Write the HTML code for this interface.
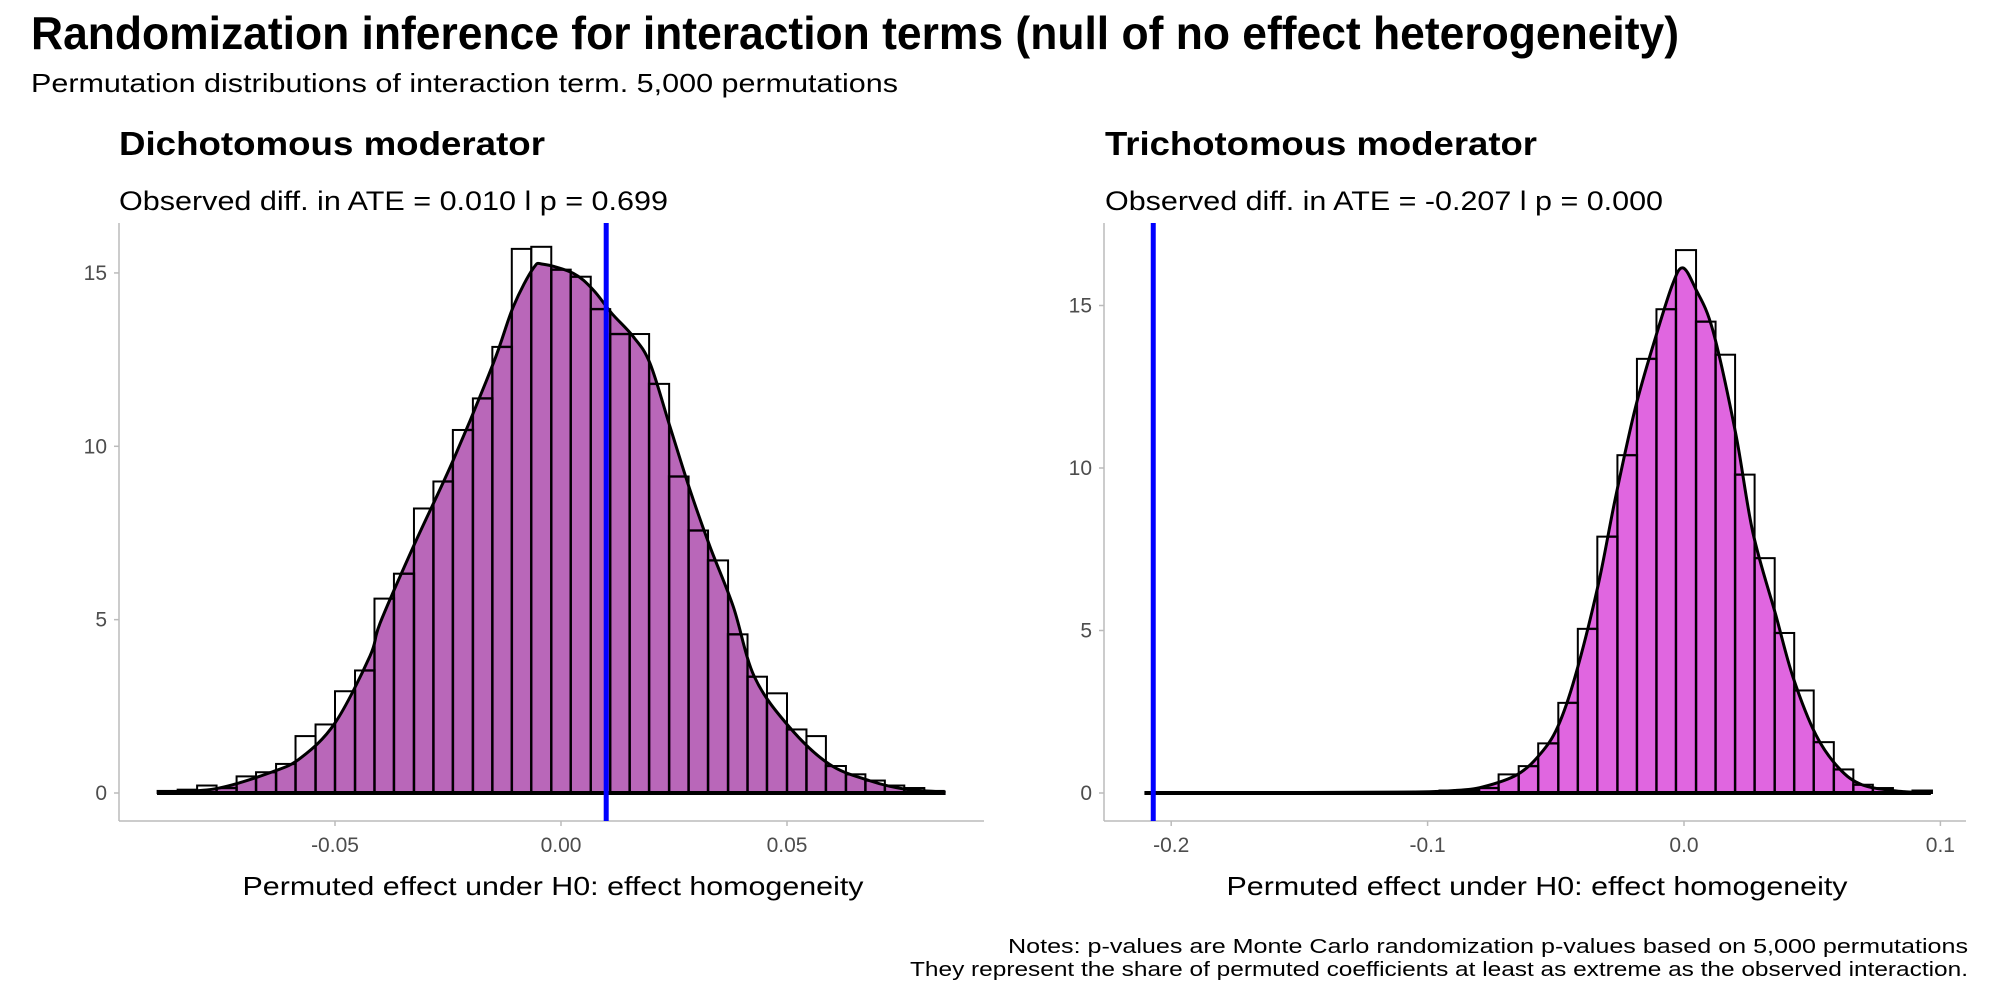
<!DOCTYPE html>
<html><head><meta charset="utf-8">
<style>
html,body{margin:0;padding:0;background:#fff;}
svg{display:block;font-family:"Liberation Sans",sans-serif;}
</style></head>
<body>
<svg id="s" width="2000" height="1000" viewBox="0 0 2000 1000" xmlns="http://www.w3.org/2000/svg">
<rect width="2000" height="1000" fill="#fff"/>
<text x="31" y="49" font-size="46" font-weight="bold" textLength="1648" lengthAdjust="spacingAndGlyphs">Randomization inference for interaction terms (null of no effect heterogeneity)</text>
<text x="31" y="92" font-size="26" textLength="867" lengthAdjust="spacingAndGlyphs">Permutation distributions of interaction term. 5,000 permutations</text>
<text x="119" y="155" font-size="33" font-weight="bold" textLength="426" lengthAdjust="spacingAndGlyphs">Dichotomous moderator</text>
<text x="119" y="210" font-size="27" textLength="549" lengthAdjust="spacingAndGlyphs">Observed diff. in ATE = 0.010 l p = 0.699</text>
<text x="1105" y="155" font-size="33" font-weight="bold" textLength="432" lengthAdjust="spacingAndGlyphs">Trichotomous moderator</text>
<text x="1105" y="210" font-size="27" textLength="558" lengthAdjust="spacingAndGlyphs">Observed diff. in ATE = -0.207 l p = 0.000</text>
<text x="553" y="895" font-size="26" text-anchor="middle" textLength="621" lengthAdjust="spacingAndGlyphs">Permuted effect under H0: effect homogeneity</text>
<text x="1537" y="895" font-size="26" text-anchor="middle" textLength="621" lengthAdjust="spacingAndGlyphs">Permuted effect under H0: effect homogeneity</text>
<text x="1968" y="953" font-size="20" text-anchor="end" textLength="960" lengthAdjust="spacingAndGlyphs">Notes: p-values are Monte Carlo randomization p-values based on 5,000 permutations</text>
<text x="1968" y="976" font-size="20" text-anchor="end" textLength="1058" lengthAdjust="spacingAndGlyphs">They represent the share of permuted coefficients at least as extreme as the observed interaction.</text>
<g id="g"></g>
</svg>
<script>
var NS="http://www.w3.org/2000/svg",G=document.getElementById('g');
function el(t,a,txt){var e=document.createElementNS(NS,t);for(var k in a)e.setAttribute(k,a[k]);if(txt!==undefined)e.textContent=txt;G.appendChild(e);return e;}
function smooth(p){var d='M'+p[0][0]+','+p[0][1];
  for(var i=0;i<p.length-1;i++){var p0=p[i-1]||p[i],p1=p[i],p2=p[i+1],p3=p[i+2]||p2;
    var c1=[p1[0]+(p2[0]-p0[0])/6,p1[1]+(p2[1]-p0[1])/6],c2=[p2[0]-(p3[0]-p1[0])/6,p2[1]-(p3[1]-p1[1])/6];
    d+=' C'+c1[0]+','+c1[1]+' '+c2[0]+','+c2[1]+' '+p2[0]+','+p2[1];}
  return d;}
function panel(P){
  var X=function(v){return P.x0+v*P.kx;}, Y=function(h){return P.y0-h*P.ky;};
  el('line',{x1:P.ax,y1:223,x2:P.ax,y2:821,stroke:'#bbb','stroke-width':1.5});
  el('line',{x1:P.ax,y1:821,x2:P.axr,y2:821,stroke:'#bbb','stroke-width':1.5});
  P.yt.forEach(function(t){var y=Y(t);el('line',{x1:P.ax-5,y1:y,x2:P.ax,y2:y,stroke:'#bbb','stroke-width':1.5});
    el('text',{x:P.ax-12,y:y+7,'font-size':21,fill:'#4d4d4d','text-anchor':'end'},String(t));});
  P.xt.forEach(function(t){var x=X(t[0]);el('line',{x1:x,y1:821,x2:x,y2:826,stroke:'#bbb','stroke-width':1.5});
    el('text',{x:x,y:852,'font-size':21,fill:'#4d4d4d','text-anchor':'middle'},t[1]);});
  var pts=P.full?P.curve:P.curve.map(function(p){return [X(P.dx(p[0])),Y(P.dy(p[1]))];});
  var sc=smooth(pts);
  var d=sc+' L'+pts[pts.length-1][0]+','+Y(0)+' L'+pts[0][0]+','+Y(0)+' Z';
  var cid='c'+P.id;
  var cp=el('clipPath',{id:cid});var pa=document.createElementNS(NS,'path');pa.setAttribute('d',d);cp.appendChild(pa);
  el('path',{d:d,fill:P.fill,stroke:'none'});
  var bars=el('g',{'clip-path':'url(#'+cid+')'});
  P.bins.forEach(function(b){var x1=X(P.dx(b[0])),x2=X(P.dx(b[1])),y=Y(P.dy(b[2]));
    var r=document.createElementNS(NS,'rect');r.setAttribute('x',x1);r.setAttribute('y',y);r.setAttribute('width',x2-x1);r.setAttribute('height',Y(0)-y);
    r.setAttribute('fill','none');r.setAttribute('stroke',P.dark);r.setAttribute('stroke-width',2.5);bars.appendChild(r);});
  P.bins.forEach(function(b){var x1=X(P.dx(b[0])),x2=X(P.dx(b[1])),y=Y(P.dy(b[2]));
    el('rect',{x:x1,y:y,width:x2-x1,height:Y(0)-y,fill:'none',stroke:'#000','stroke-width':2});});
  el('path',{d:sc,fill:'none',stroke:'#000','stroke-width':3});
  el('line',{x1:pts[0][0],y1:Y(0),x2:pts[pts.length-1][0],y2:Y(0),stroke:'#000','stroke-width':4});
  el('line',{x1:X(P.obs),y1:223,x2:X(P.obs),y2:821,stroke:'#0000ff','stroke-width':5});
}
var le=[100,135,169,203,238,272,307,341,376,410,445,479,513,548,582,616,651,685,719,753,788,822,857,891,925,959,994,1028,1062,1097,1131,1165,1200,1234,1268,1303,1337,1371,1405,1440,1474];
var lt=[1425,1422,1412,1418,1390,1380,1360,1293,1265,1185,1135,962,902,745,680,556,480,356,120,115,170,187,265,325,325,445,668,798,870,1048,1150,1190,1277,1293,1365,1385,1400,1412,1418,1425];
var lb=[];for(var i=0;i<40;i++)lb.push([le[i],le[i+1],lt[i]]);
panel({id:1,x0:561,kx:4520,y0:793,ky:34.67,ax:119,axr:984,yt:[0,5,10,15],
 xt:[[-0.05,'-0.05'],[0,'0.00'],[0.05,'0.05']],obs:0.010,fill:'#b967b9',dark:'#4a0a4a',
 dx:function(x){return (x-805)/395*0.05;},dy:function(y){return (1430-y)/83.47;},bins:lb,full:true,
 curve:[[157,792],[215,788.8],[272,772],[301,757.7],[335,723],[370,656],[380,623.3],[413.3,546.7],[453.3,460],[493.3,363.3],[513.3,306.7],[533.3,268.3],[543.3,264.3],[573.3,273.3],[593.3,290],[611.7,313.3],[633.3,336.7],[650,363.3],[670,426.7],[690,490],[710,546.7],[733.3,606.7],[754.4,676.8],[788.9,726.5],[829,764],[869,780.5],[904,789],[945.6,792]]});
var re=[555,590,624,659,693,727,762,796,831,865,899,934,968,1002,1036,1071,1105,1139,1173,1208,1242,1276,1311,1345,1379,1414,1448,1482];
var rt=[1428,1428,1424,1424,1418,1385,1365,1310,1212,1033,810,613,380,260,117,290,370,660,862,1043,1182,1307,1373,1410,1418,1428,1424];
var rb=[];for(var i=0;i<27;i++)rb.push([re[i],re[i+1],rt[i]]);
panel({id:2,x0:1684,kx:2564,y0:793,ky:32.5,ax:1104,axr:1966,yt:[0,5,10,15],
 xt:[[-0.2,'-0.2'],[-0.1,'-0.1'],[0,'0.0'],[0.1,'0.1']],obs:-0.207,fill:'#e066e0',dark:'#7a0f7a',
 dx:function(x){return (x-1050)/4467;},dy:function(y){return (1430-y)/78.6;},bins:rb,
 curve:[[110,1430],[550,1428],[650,1424],[700,1415],[760,1385],[800,1335],[830,1270],[860,1150],[900,930],[930,720],[965,500],[1000,330],[1030,200],[1048,160],[1070,210],[1100,310],[1140,560],[1170,800],[1210,1000],[1240,1150],[1280,1290],[1320,1370],[1360,1410],[1420,1425],[1480,1430]]});
</script>
</body></html>
